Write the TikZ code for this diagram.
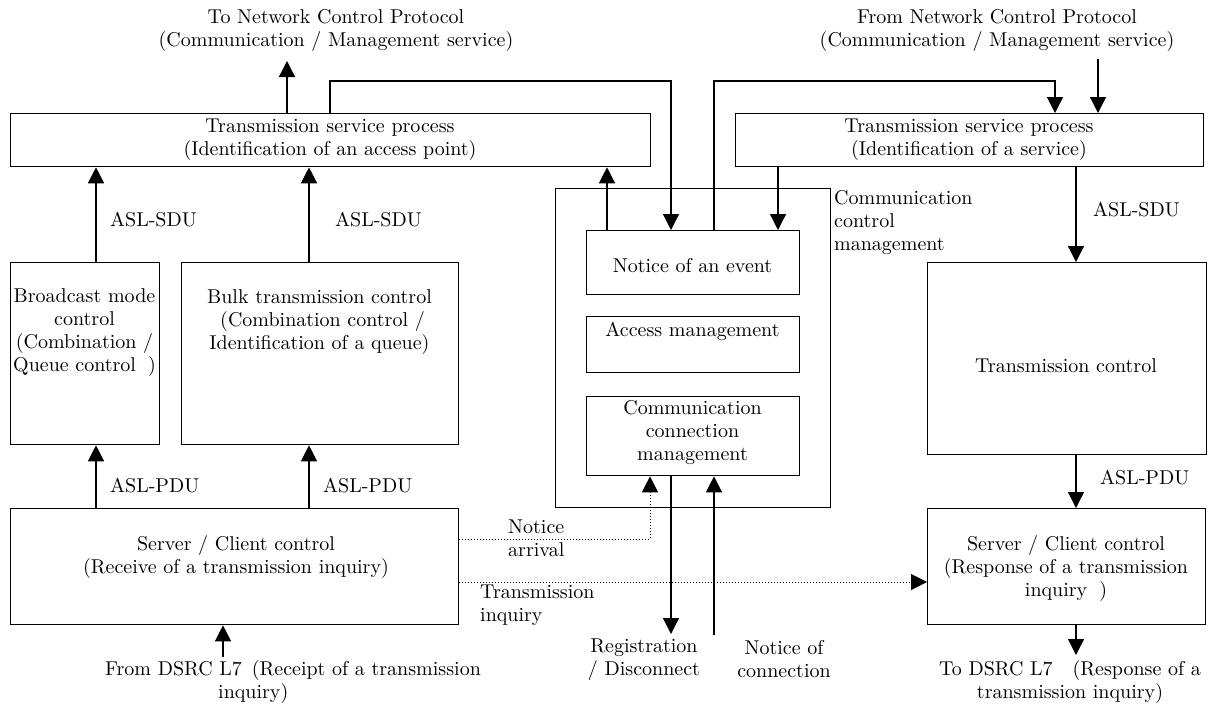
\documentclass[tikz,border=0pt]{standalone}
\usepackage{fontspec}
\setmainfont{lmroman10-regular.otf}
\usetikzlibrary{arrows.meta}
\begin{document}
\begin{tikzpicture}[x=1pt,y=-1pt,
  box/.style={draw, line width=1.3pt, rectangle, inner sep=0pt, anchor=north west},
  txt/.style={inner sep=0pt, font=\fontsize{20}{23}\selectfont, align=center},
  lbl/.style={txt, anchor=west, align=left},
  arr/.style={line width=1.3pt, -{Triangle[length=16pt,width=16pt]}},
  dotarr/.style={line width=1pt, dotted, -{Triangle[length=16pt,width=16pt]}},
]
\useasboundingbox (0,0) rectangle (1209,704);

% ---- boxes ----
\node[box, minimum width=640pt, minimum height=53pt]  (tspL)   at (10,113)  {};
\node[box, minimum width=468pt, minimum height=53pt]  (tspR)   at (735,113) {};
\node[box, minimum width=149pt, minimum height=182pt] (bc)     at (10,262)  {};
\node[box, minimum width=277pt, minimum height=182pt] (bulk)   at (181,262) {};
\node[box, minimum width=275pt, minimum height=319pt] (ccm)    at (555,188) {};
\node[box, minimum width=213pt, minimum height=64pt]  (notice) at (586,230) {};
\node[box, minimum width=213pt, minimum height=56pt]  (access) at (586,316) {};
\node[box, minimum width=213pt, minimum height=79pt]  (conn)   at (586,396) {};
\node[box, minimum width=279pt, minimum height=192pt] (tc)     at (927,262) {};
\node[box, minimum width=448pt, minimum height=116pt] (scL)    at (10,508)  {};
\node[box, minimum width=278pt, minimum height=116pt] (scR)    at (927,508) {};

% ---- box texts ----
\node[txt] (tspLt)   at (330,139.5) {Transmission service process\\(Identification of an access point)};
\node[txt] (tspRt)   at (969,139.5) {Transmission service process\\(Identification of a service)};
\node[txt] (bct)     at (84.5,333)  {Broadcast mode\\control\\(Combination /\\Queue control\hspace*{0.6em})};
\node[txt] (bulkt)   at (319.5,322) {Bulk transmission control\\\hspace*{0.3em}(Combination control /\\Identification of a queue)};
\node[txt] (noticet) at (692.5,266) {Notice of an event};
\node[txt] (accesst) at (692.5,331) {Access management};
\node[txt] (connt)   at (692.5,433) {Communication\\connection\\management};
\node[txt] (tct)     at (1066,366)  {Transmission control};
\node[txt] (scLt)    at (236,557)   {Server / Client control\\(Receive of a transmission inquiry)};
\node[txt] (scRt)    at (1066,568)  {Server / Client control\\(Response of a transmission\\inquiry\hspace*{0.6em})};
\node[lbl] (ccmt)    at (834,223)   {Communication\\control\\management};

% ---- outside texts ----
\node[txt] (toNCPt)   at (336,30)  {To Network Control Protocol\\(Communication / Management service)};
\node[txt] (fromNCPt) at (997,30)  {From Network Control Protocol\\(Communication / Management service)};
\node[lbl] (sdu1) at (110,220)  {ASL-SDU};
\node[lbl] (sdu2) at (335,220)  {ASL-SDU};
\node[lbl] (sdu3) at (1093,210) {ASL-SDU};
\node[lbl] (pdu1) at (110,486)  {ASL-PDU};
\node[lbl] (pdu2) at (323,486)  {ASL-PDU};
\node[lbl] (pdu3) at (1100,478) {ASL-PDU};
\node[lbl] (nat)  at (508,538)  {Notice\\arrival};
\node[lbl] (tit)  at (480,605)  {Transmission\\inquiry};
\node[txt] (regt) at (644,659.5) {Registration\\/ Disconnect};
\node[txt] (noct) at (784,659.5) {Notice of\\connection};
\node[lbl] (fdt)  at (105,681.5) {From DSRC L7\hspace{0.5em}(Receipt of a transmission\\\hspace*{113pt}inquiry)};
\node[txt] (tdt)  at (1070,681.5) {To DSRC L7\hspace{1em}(Response of a\\transmission inquiry)};

% ---- routing points ----
\coordinate (toNCP)   at (287,61);
\coordinate (fromNCP) at (1098,59);
\coordinate (j1) at (330,81);
\coordinate (j2) at (671,81);
\coordinate (j3) at (714,81);
\coordinate (j4) at (1055,81);
\coordinate (a1) at (96,0);
\coordinate (a2) at (309,0);
\coordinate (a3) at (607,0);
\coordinate (a4) at (778,0);
\coordinate (a5) at (1076,0);
\coordinate (toDSRC)   at (1076,655);
\coordinate (fromDSRC) at (223,657);
\coordinate (d1) at (650,539);
\coordinate (d2) at (0,582);
\coordinate (r1) at (671,634);
\coordinate (r2) at (714,635);

% ---- connectors ----
\draw[arr] (tspL.north -| toNCP) -- (toNCP);
\draw[arr] (fromNCP) -- (tspR.north -| fromNCP);
\draw[arr] (tspL.north -| j1) -- (j1) -- (j2) -- (notice.north -| j2);
\draw[arr] (notice.north -| j3) -- (j3) -- (j4) -- (tspR.north -| j4);
\draw[arr] (bc.north -| a1) -- (tspL.south -| a1);
\draw[arr] (bulk.north -| a2) -- (tspL.south -| a2);
\draw[arr] (scL.north -| a1) -- (bc.south -| a1);
\draw[arr] (scL.north -| a2) -- (bulk.south -| a2);
\draw[arr] (notice.north -| a3) -- (tspL.south -| a3);
\draw[arr] (tspR.south -| a4) -- (notice.north -| a4);
\draw[arr] (tspR.south -| a5) -- (tc.north -| a5);
\draw[arr] (tc.south -| a5) -- (scR.north -| a5);
\draw[arr] (scR.south -| a5) -- (toDSRC);
\draw[arr] (fromDSRC) -- (scL.south -| fromDSRC);
\draw[dotarr] (scL.east |- d1) -- (d1) -- (conn.south -| d1);
\draw[dotarr] (scL.east |- d2) -- (scR.west |- d2);
\draw[arr] (conn.south -| r1) -- (r1);
\draw[arr] (r2) -- (conn.south -| r2);
\end{tikzpicture}
\end{document}
